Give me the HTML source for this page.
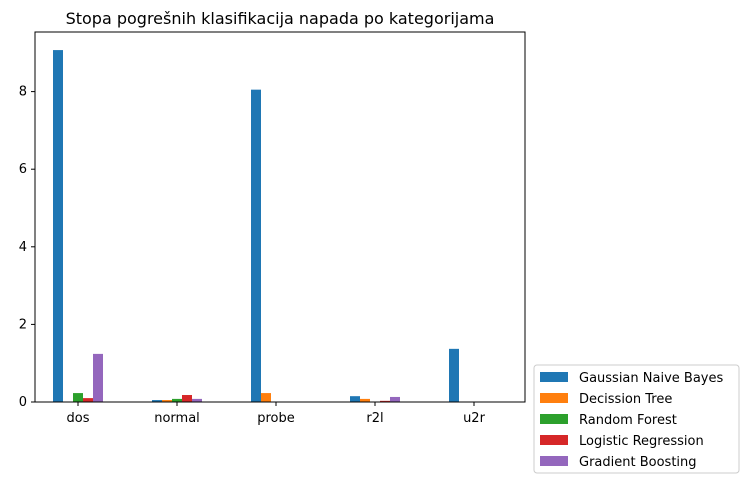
<!DOCTYPE html>
<html><head><meta charset="utf-8"><style>
body{margin:0;background:#fff;font-family:"Liberation Sans","DejaVu Sans",sans-serif;}
svg text{font-family:"DejaVu Sans","Liberation Sans",sans-serif;}
</style></head><body>
<svg id="chart" width="748" height="484" xmlns="http://www.w3.org/2000/svg"></svg>
<script>
const categories=["dos","normal","probe","r2l","u2r"];
const seriesNames=["Gaussian Naive Bayes","Decission Tree","Random Forest","Logistic Regression","Gradient Boosting"];
const gnb=[9.07,0.05,8.05,0.15,1.37];
const dt=[0,0.05,0.23,0.08,0];
const rf=[0.23,0.08,0,0,0];
const lr=[0.1,0.18,0,0.03,0];
const gb=[1.24,0.08,0,0.13,0];
const yTicks=[0,2,4,6,8];
const series=[gnb,dt,rf,lr,gb];
const colors=["#1f77b4","#ff7f0e","#2ca02c","#d62728","#9467bd"];
const NS="http://www.w3.org/2000/svg";
const svg=document.getElementById('chart');
const L=35,R=525,T=32,B=402;
const y=v=>B-v*38.8;
const step=99, x0=78;
const x=i=>x0+i*step;
function el(t,a,p){const e=document.createElementNS(NS,t);for(const k in a)e.setAttribute(k,a[k]);(p||svg).appendChild(e);return e;}
const t=el('text',{x:(L+R)/2,y:24,'text-anchor':'middle','font-size':16,fill:'#000'});


t.textContent="Stopa pogrešnih klasifikacija napada po kategorijama";
series.forEach((s,si)=>{s.forEach((v,ci)=>{
 const bx=x(ci)-25+si*10;
 const r=el('rect',{x:bx,y:y(v),width:10,height:B-y(v),fill:colors[si]});
 
 
});});
const ax=el('rect',{x:L,y:T,width:R-L,height:B-T,fill:'none',stroke:'#000','stroke-width':1});


yTicks.forEach(v=>{
 el('line',{x1:L-4,x2:L,y1:y(v),y2:y(v),stroke:'#000'});
 const tx=el('text',{x:L-8,y:y(v)+4,'text-anchor':'end','font-size':13});
 
 
 tx.textContent=v;
});
categories.forEach((c,i)=>{
 el('line',{x1:x(i),x2:x(i),y1:B,y2:B+4,stroke:'#000'});
 const tx=el('text',{x:x(i),y:B+20,'text-anchor':'middle','font-size':13});
 
 
 tx.textContent=c;
});
const lg=el('g',{});


el('rect',{x:534,y:365,width:205,height:108,rx:3,fill:'#fff',stroke:'#ccc'},lg);
seriesNames.forEach((n,i)=>{
 const yy=377+i*21;
 el('rect',{x:540,y:yy-5,width:28,height:10,fill:colors[i]},lg);
 const tx=el('text',{x:579,y:yy+5,'font-size':13},lg);
 
 
 tx.textContent=n;
});
</script>
</body></html>
